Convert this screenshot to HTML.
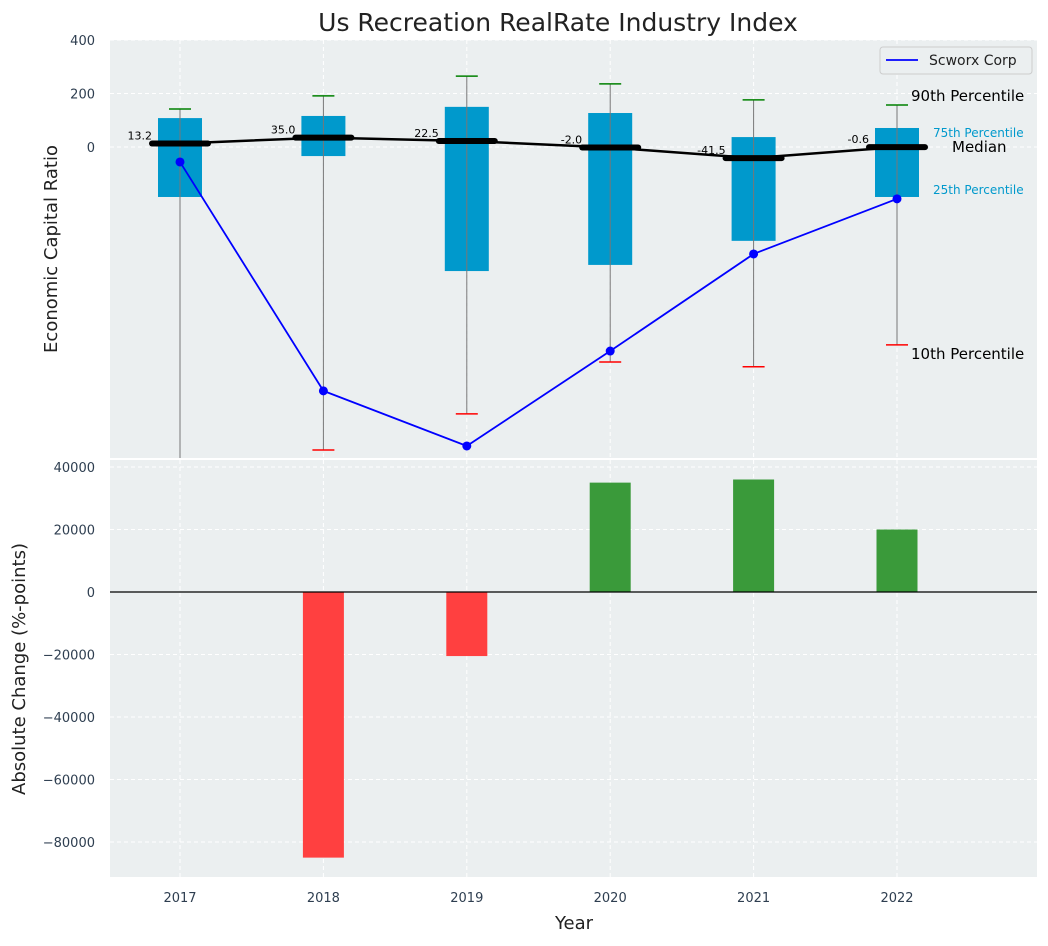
<!DOCTYPE html>
<html><head><meta charset="utf-8"><style>
body{margin:0;background:#fff;font-family:"DejaVu Sans","Liberation Sans",sans-serif;}
svg text{font-family:"DejaVu Sans","Liberation Sans",sans-serif;}
</style></head><body>
<svg id="c" width="1048" height="942" xmlns="http://www.w3.org/2000/svg"></svg>
<script>
const years=[2017,2018,2019,2020,2021,2022];
const medians=[13.2,35.0,22.5,-2.0,-41.5,-0.6];
const p75=[108,116,150,127,37,71];
const p25=[-187,-34,-464,-441,-351,-187];
const p90=[142,191,265,236,176,157];
const p10=[-1300,-1133,-998,-804,-822,-740];
const company=[-56,-912,-1118,-763,-400,-194];
const changes=[0,-85000,-20500,35000,36000,20000];
const topTicks=[400,200,0];
const botTicks=[40000,20000,0,-20000,-40000,-60000,-80000];

const svg=document.getElementById('c');
const NS='http://www.w3.org/2000/svg';
function mk(tag,attrs,parent){const e=document.createElementNS(NS,tag);for(const k in attrs)e.setAttribute(k,attrs[k]);(parent||svg).appendChild(e);return e;}
const L=110,R=1037;
const x=v=>180+(v-2017)*143.4;
const T0=40,T1=458,tMax=400,tMin=-1163;
const yT=v=>T0+(tMax-v)/(tMax-tMin)*(T1-T0);
const B0=460,B1=877,bMax=42240,bMin=-91200;
const yB=v=>B0+(bMax-v)/(bMax-bMin)*(B1-B0);

let e=mk('rect',{x:L,y:T0,width:R-L,height:T1-T0,fill:'#ebeff0'});

e=mk('rect',{x:L,y:B0,width:R-L,height:B1-B0,fill:'#ebeff0'});

const clipT=mk('clipPath',{id:'ct'});mk('rect',{x:L,y:T0,width:R-L,height:T1-T0},clipT);

years.forEach(yr=>{mk('line',{x1:x(yr),x2:x(yr),y1:T0,y2:T1,stroke:'#fff','stroke-dasharray':'4,3'});mk('line',{x1:x(yr),x2:x(yr),y1:B0,y2:B1,stroke:'#fff','stroke-dasharray':'4,3'});
 e=mk('text',{x:x(yr),y:902,'text-anchor':'middle','font-size':13,fill:'#2e3e50'});e.textContent=yr;
 });
topTicks.forEach(t=>{mk('line',{x1:L,x2:R,y1:yT(t),y2:yT(t),stroke:'#fff','stroke-dasharray':'4,3'});
 e=mk('text',{x:95,y:yT(t)+5,'text-anchor':'end','font-size':13,fill:'#2e3e50'});e.textContent=t;
 });
botTicks.forEach(t=>{mk('line',{x1:L,x2:R,y1:yB(t),y2:yB(t),stroke:'#fff','stroke-dasharray':'4,3'});
 e=mk('text',{x:95,y:yB(t)+5,'text-anchor':'end','font-size':13,fill:'#2e3e50'});e.textContent=(t<0?'\u2212'+(-t):t);
 });

const g=mk('g',{'clip-path':'url(#ct)'});
years.forEach((yr,i)=>{
 const cx=x(yr),bw=44;
 e=mk('rect',{x:cx-bw/2,y:yT(p75[i]),width:bw,height:yT(p25[i])-yT(p75[i]),fill:'#0099cc'},g);
 
 e=mk('line',{x1:cx,x2:cx,y1:yT(p90[i]),y2:yT(p10[i]),stroke:'#777','stroke-width':1},g);
 
 e=mk('line',{x1:cx-11,x2:cx+11,y1:yT(p90[i]),y2:yT(p90[i]),stroke:'green','stroke-width':1.5},g);
 
 e=mk('line',{x1:cx-11,x2:cx+11,y1:yT(p10[i]),y2:yT(p10[i]),stroke:'red','stroke-width':1.5},g);
 
});
e=mk('polyline',{points:years.map((yr,i)=>x(yr)+','+yT(medians[i])).join(' '),fill:'none',stroke:'#000','stroke-width':2.5},g);

years.forEach((yr,i)=>{const cx=x(yr);
 e=mk('line',{x1:cx-28,x2:cx+28,y1:yT(medians[i]),y2:yT(medians[i]),stroke:'#000','stroke-width':6,'stroke-linecap':'round'},g);
 
 e=mk('text',{x:cx-28,y:yT(medians[i])-4,'text-anchor':'end','font-size':11,fill:'#000'});e.textContent=medians[i].toFixed(1);
 });
e=mk('polyline',{points:years.map((yr,i)=>x(yr)+','+yT(company[i])).join(' '),fill:'none',stroke:'blue','stroke-width':1.8},g);

years.forEach((yr,i)=>{e=mk('circle',{cx:x(yr),cy:yT(company[i]),r:4.5,fill:'blue'},g);
 });

const last=years.length-1,lx=x(years[last]);
[['90th Percentile',yT(p90[last])-9,15,'#000',lx+14],['75th Percentile',yT(p75[last])+5,12,'#0099cc',lx+36],
 ['Median',yT(medians[last]),15,'#000',lx+55],['25th Percentile',yT(p25[last])-7,12,'#0099cc',lx+36],
 ['10th Percentile',yT(p10[last])+9,15,'#000',lx+14]].forEach(a=>{
 e=mk('text',{x:a[4],y:a[1],'dominant-baseline':'central','font-size':a[2],fill:a[3]});e.textContent=a[0];
 });

const lg=mk('g',{});
mk('rect',{x:880,y:47,width:152,height:27,rx:3,fill:'#ebeff0',stroke:'#ccc'},lg);
mk('line',{x1:886,x2:918,y1:60,y2:60,stroke:'blue','stroke-width':1.8},lg);
e=mk('text',{x:929,y:65,'font-size':14,fill:'#222'},lg);e.textContent='Scworx Corp';

const bw=41;
years.forEach((yr,i)=>{const v=changes[i];if(!v)return;
 e=mk('rect',{x:x(yr)-bw/2,y:Math.min(yB(v),yB(0)),width:bw,height:Math.abs(yB(v)-yB(0)),fill:v<0?'#ff4040':'#3a9a3a'});
 });
e=mk('line',{x1:L,x2:R,y1:yB(0),y2:yB(0),stroke:'#000','stroke-width':1.2});


e=mk('text',{x:558,y:31,'text-anchor':'middle','font-size':25,fill:'#222'});e.textContent='Us Recreation RealRate Industry Index';

e=mk('text',{x:0,y:0,'text-anchor':'middle','font-size':18,fill:'#222',transform:'translate(57,249) rotate(-90)'});e.textContent='Economic Capital Ratio';

e=mk('text',{x:0,y:0,'text-anchor':'middle','font-size':18,fill:'#222',transform:'translate(25,669) rotate(-90)'});e.textContent='Absolute Change (%-points)';

e=mk('text',{x:574,y:929,'text-anchor':'middle','font-size':18,fill:'#222'});e.textContent='Year';

</script>
</body></html>
